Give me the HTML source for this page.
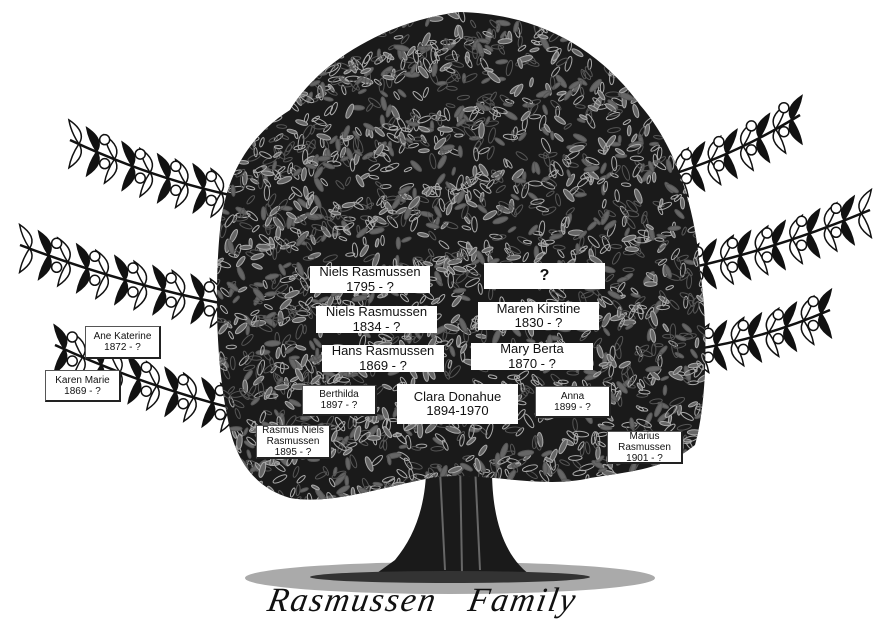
<!DOCTYPE html>
<html><head><meta charset="utf-8">
<style>
html,body{margin:0;padding:0;background:#fff;}
#w{position:relative;width:892px;height:644px;overflow:hidden;font-family:"Liberation Sans",sans-serif;}
svg{position:absolute;left:0;top:0;}
.b{position:absolute;background:#fff;text-align:center;color:#111;line-height:1.1;display:flex;flex-direction:column;justify-content:center;box-sizing:border-box;}
.s{border-right:2px solid #222;border-bottom:2px solid #222;border-left:1px solid #555;border-top:1px solid #555;font-size:10px;}
.t{font-size:13px;}
#title{position:absolute;left:268px;top:582px;font-family:"Liberation Serif",serif;font-style:italic;font-size:34px;letter-spacing:2px;color:#111;transform:skewX(-10deg);}
</style></head><body>
<div id="w">
<svg id="sv" width="892" height="644" viewBox="0 0 892 644">
<defs>
<clipPath id="cc"><path id="cp" d="M290,110 C320,60 390,20 460,12 C540,14 600,50 640,105 C675,145 695,205 700,270 C710,340 705,410 695,445 C665,470 625,472 590,478 C540,490 480,470 430,478 C380,488 330,505 290,498 C255,488 235,460 228,420 C215,360 215,280 220,230 C225,175 250,135 290,110 Z"/></clipPath>
</defs>
<ellipse cx="450" cy="578" rx="205" ry="16" fill="#aaa"/>
<g id="br"></g>
<path d="M425,440 C430,490 420,530 395,560 L370,578 L535,578 C505,560 492,520 492,470 L498,430 Z" fill="#1a1a1a"/>
<path d="M440,470 L445,570 M460,460 L462,572 M475,465 L480,570" stroke="#666" stroke-width="2"/>
<ellipse cx="450" cy="577" rx="140" ry="6" fill="#333"/>
<use href="#cp" fill="#1a1a1a"/>
<g id="lv" clip-path="url(#cc)"></g>
</svg>
<div class="b t" style="left:310px;top:266px;width:120px;height:27px;">Niels Rasmussen<br>1795 - ?</div>
<div class="b" style="left:484px;top:263px;width:121px;height:26px;font-size:16px;font-weight:bold;">?</div>
<div class="b t" style="left:316px;top:306px;width:121px;height:27px;">Niels Rasmussen<br>1834 - ?</div>
<div class="b t" style="left:478px;top:302px;width:121px;height:28px;">Maren Kirstine<br>1830 - ?</div>
<div class="b t" style="left:322px;top:345px;width:122px;height:27px;">Hans Rasmussen<br>1869 - ?</div>
<div class="b t" style="left:471px;top:343px;width:122px;height:27px;">Mary Berta<br>1870 - ?</div>
<div class="b s" style="left:302px;top:385px;width:75px;height:31px;">Berthilda<br>1897 - ?</div>
<div class="b t" style="left:397px;top:384px;width:121px;height:40px;">Clara Donahue<br>1894-1970</div>
<div class="b s" style="left:535px;top:386px;width:76px;height:32px;">Anna<br>1899 - ?</div>
<div class="b s" style="left:256px;top:425px;width:75px;height:34px;">Rasmus Niels<br>Rasmussen<br>1895 - ?</div>
<div class="b s" style="left:607px;top:431px;width:76px;height:33px;">Marius<br>Rasmussen<br>1901 - ?</div>
<div class="b s" style="left:85px;top:326px;width:76px;height:33px;">Ane Katerine<br>1872 - ?</div>
<div class="b s" style="left:45px;top:370px;width:76px;height:32px;">Karen Marie<br>1869 - ?</div>
<div id="title">Rasmussen&nbsp;&nbsp;&nbsp;Family</div>
</div>
<script>
var NS="http://www.w3.org/2000/svg";
function el(p,t,a){var e=document.createElementNS(NS,t);for(var k in a)e.setAttribute(k,a[k]);p.appendChild(e);return e;}
var lv=document.getElementById('lv');
var seed=7;function r(){seed=(seed*9301+49297)%233280;return seed/233280;}
for(var i=0;i<2600;i++){var x=210+r()*500,y=5+r()*500,a=r()*360,s=4+r()*4;
el(lv,'ellipse',{cx:x,cy:y,rx:s,ry:s*0.35,transform:'rotate('+a+' '+x+' '+y+')',fill:r()<0.4?'#666':'none',stroke:r()<0.5?'#aaa':'#555','stroke-width':1});}
var br=document.getElementById('br');
function branch(x0,y0,x1,y1,n){
 el(br,'path',{d:'M'+x0+','+y0+' Q'+((x0+x1)/2)+','+((y0+y1)/2+10)+' '+x1+','+y1,stroke:'#111','stroke-width':2.5,fill:'none'});
 for(var i=0;i<n;i++){var t=(i+0.5)/n,x=x0+(x1-x0)*t,y=y0+(y1-y0)*t+Math.sin(t*Math.PI)*5;
  [-1,1].forEach(function(d){var lx=x+(x1>x0?10:-10),ly=y+d*24;
   el(br,'path',{d:'M'+x+','+y+' Q'+(x-8)+','+((y+ly)/2)+' '+lx+','+ly+' Q'+(x+8)+','+((y+ly)/2)+' '+x+','+y,fill:(i%2?'#111':'#fff'),stroke:'#111','stroke-width':1.5});
   if(i%2)el(br,'circle',{cx:x-(x1>x0?8:-8),cy:y+d*12,r:5,fill:'#fff',stroke:'#111','stroke-width':1.5});});}
}
branch(230,195,70,140,9);
branch(230,305,20,245,11);
branch(240,410,55,345,10);
branch(670,175,800,115,8);
branch(680,270,870,210,11);
branch(690,350,830,310,8);
</script>
</body></html>
